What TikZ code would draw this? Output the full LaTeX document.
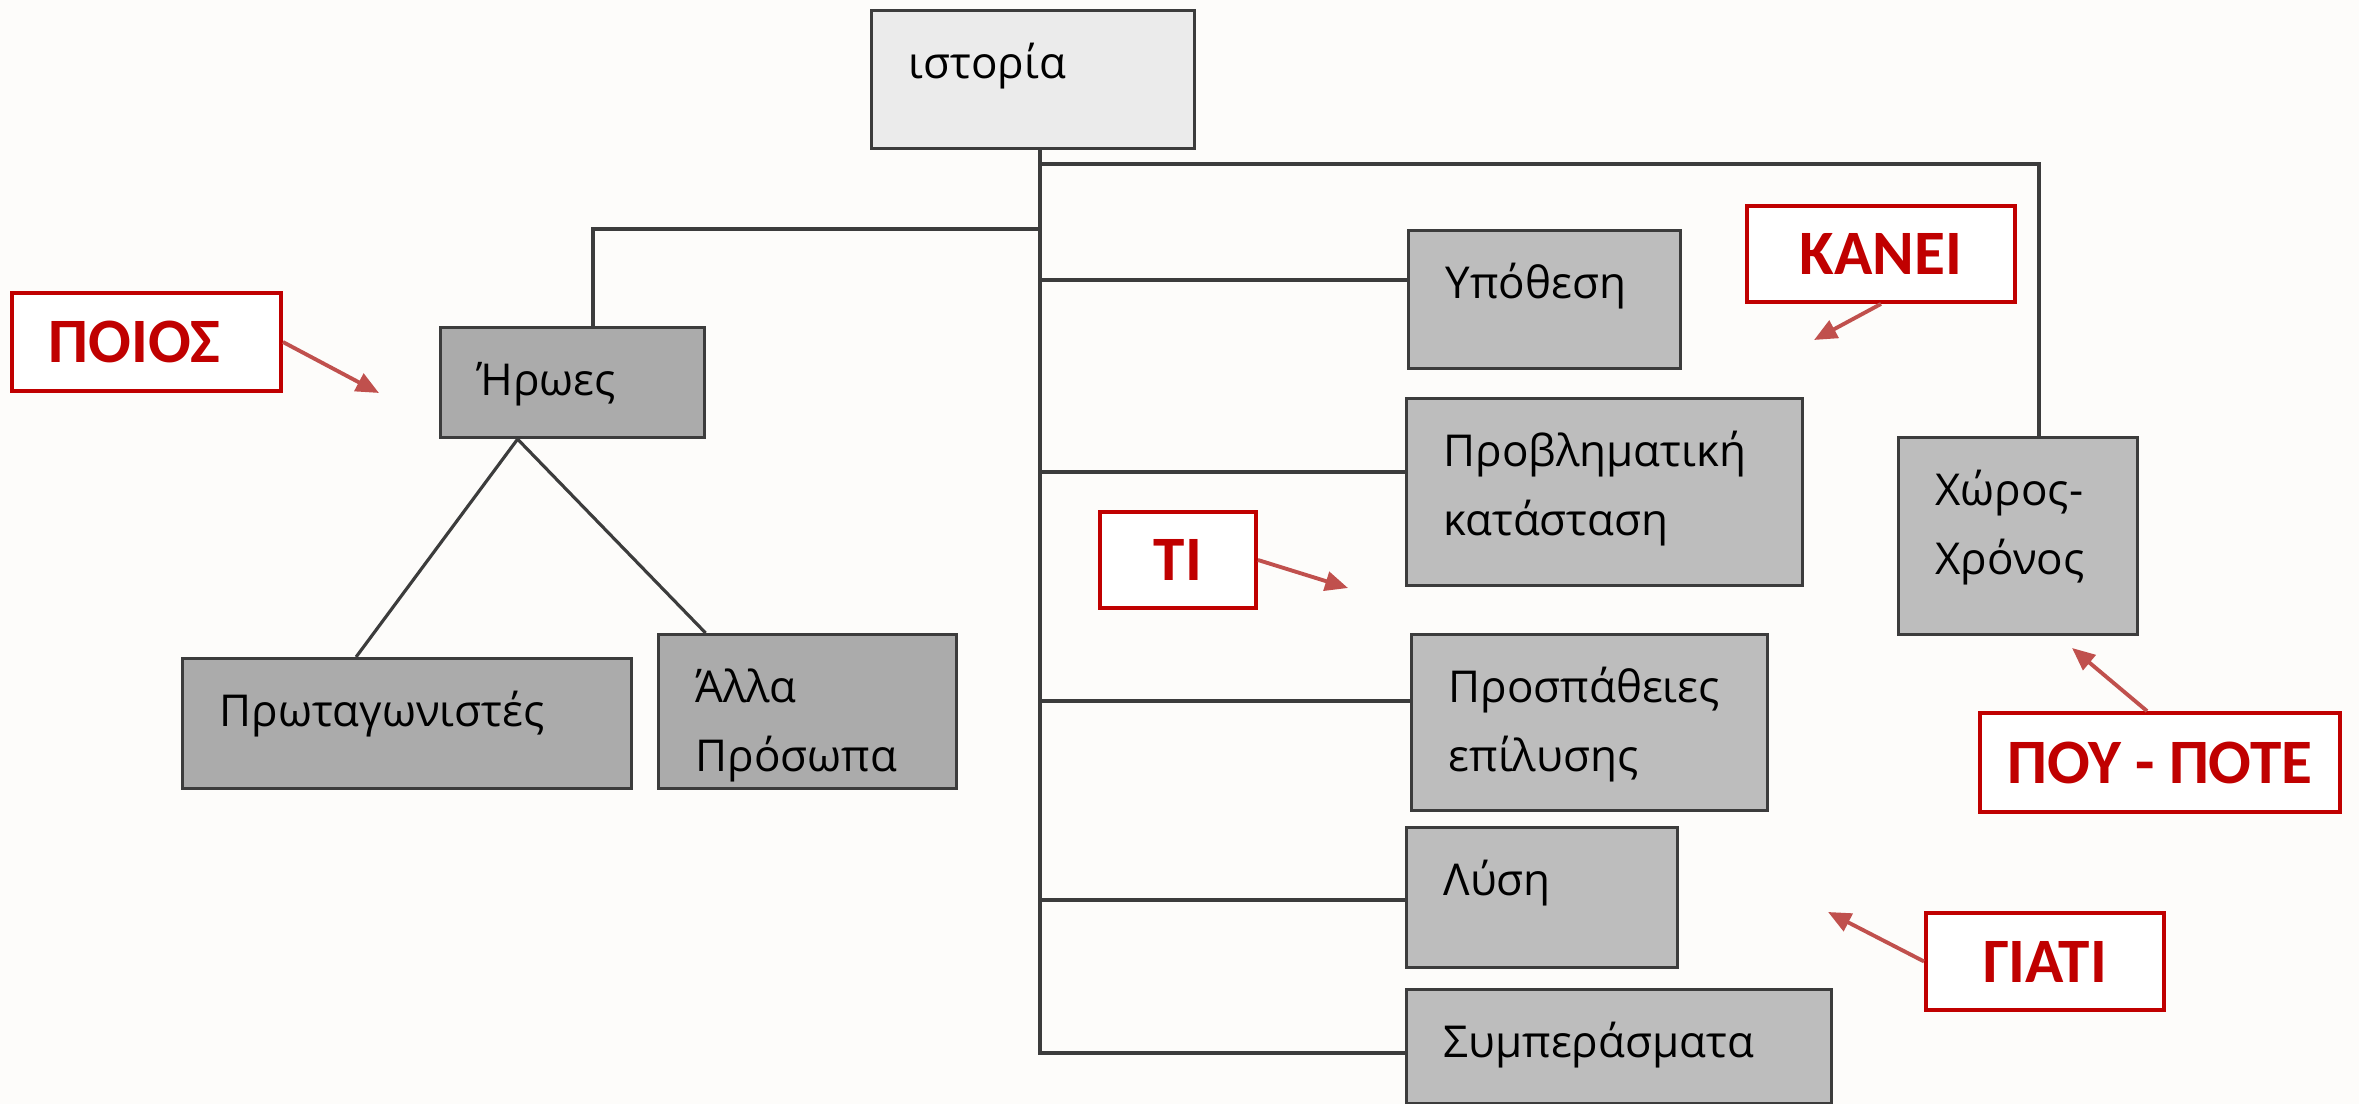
\documentclass[tikz,border=0pt]{standalone}
\usepackage{fontspec}
\setmainfont{Open Sans}
\newfontfamily\tagfont{Carlito}
\usetikzlibrary{arrows.meta}

\definecolor{boxline}{HTML}{3C3C3C}
\definecolor{toplight}{HTML}{EBEBEB}
\definecolor{leftgray}{HTML}{ABABAB}
\definecolor{rightgray}{HTML}{BDBDBD}
\definecolor{tagred}{HTML}{C00000}
\definecolor{arrowred}{HTML}{C0504D}
\definecolor{paper}{HTML}{FDFCFA}

\begin{document}
\begin{tikzpicture}[
    gbox/.style={draw=boxline, line width=0.9pt, rectangle, anchor=north west, inner xsep=0.37cm, inner ysep=0pt, text height=0.68cm, align=left, text=black, font=\fontsize{12.5}{19.6}\selectfont},
    tagbox/.style={draw=tagred, line width=1.1pt, fill=white, text=tagred, inner sep=0pt, font=\tagfont\bfseries\fontsize{18}{20}\selectfont},
    conn/.style={draw=boxline, line width=0.9pt},
    pointer/.style={draw=arrowred, line width=1.1pt, -{Triangle[length=6.5pt,width=5.5pt]}}
]
    \fill[paper] (0,0) rectangle (23.59,-11.04);
    \useasboundingbox (0,0) rectangle (23.59,-11.04);

    % boxes of the outline
    \node (ist) [gbox, fill=toplight, text width=2.49cm, text depth=0.70cm] at (8.70,-0.09) {ιστορία};
    \node (her) [gbox, fill=leftgray, text width=1.90cm, text depth=0.42cm] at (4.39,-3.26) {Ήρωες};
    \node (pro) [gbox, fill=leftgray, text width=3.75cm, text depth=0.62cm] at (1.81,-6.57) {Πρωταγωνιστές};
    \node (oth) [gbox, fill=leftgray, text width=2.24cm, text depth=0.86cm] at (6.57,-6.33) {Άλλα\\Πρόσωπα};
    \node (hyp) [gbox, fill=rightgray, text width=1.98cm, text depth=0.70cm] at (14.07,-2.29) {Υπόθεση};
    \node (prob) [gbox, fill=rightgray, text width=3.22cm, text depth=1.19cm] at (14.05,-3.97) {Προβληματική\\κατάσταση};
    \node (eff) [gbox, fill=rightgray, text width=2.82cm, text depth=1.08cm] at (14.10,-6.33) {Προσπάθειες\\επίλυσης};
    \node (sol) [gbox, fill=rightgray, text width=1.97cm, text depth=0.72cm] at (14.05,-8.26) {Λύση};
    \node (con) [gbox, fill=rightgray, text width=3.51cm, text depth=0.46cm] at (14.05,-9.88) {Συμπεράσματα};
    \node (place) [gbox, fill=rightgray, text width=1.65cm, text depth=1.29cm] at (18.97,-4.36) {Χώρος-\\Χρόνος};

    % branch points on the trunk
    \coordinate (bplace) at (10.40,-1.64);
    \coordinate (bplacecorner) at (20.39,-1.64);
    \coordinate (bher) at (10.40,-2.29);
    \coordinate (bhercorner) at (5.93,-2.29);
    \coordinate (bhyp) at (10.40,-2.80);
    \coordinate (bprob) at (10.40,-4.72);
    \coordinate (beff) at (10.40,-7.01);
    \coordinate (bsol) at (10.40,-9.00);
    \coordinate (bcon) at (10.40,-10.53);

    \draw[conn] (ist.south -| bcon) -- (bcon) -- (bcon -| con.west);
    \draw[conn] (bplace) -- (bplacecorner) -- (bplacecorner |- place.north);
    \draw[conn] (bher) -- (bhercorner) -- (bhercorner |- her.north);
    \draw[conn] (bhyp) -- (bhyp -| hyp.west);
    \draw[conn] (bprob) -- (bprob -| prob.west);
    \draw[conn] (beff) -- (beff -| eff.west);
    \draw[conn] (bsol) -- (bsol -| sol.west);
    \draw[conn] ([xshift=-0.55cm]her.south) -- ([xshift=-0.51cm]pro.north);
    \draw[conn] ([xshift=-0.55cm]her.south) -- ([xshift=-1.02cm]oth.north);

    % red question tags
    \node (poios) [tagbox, minimum width=2.69cm, minimum height=0.98cm] at (1.465,-3.42) {\hspace*{-0.24cm}ΠΟΙΟΣ};
    \node (kanei) [tagbox, minimum width=2.68cm, minimum height=0.96cm] at (18.81,-2.54) {ΚΑΝΕΙ};
    \node (ti) [tagbox, minimum width=1.56cm, minimum height=0.96cm] at (11.78,-5.60) {ΤΙ};
    \node (pou) [tagbox, minimum width=3.60cm, minimum height=0.99cm] at (21.60,-7.625) {ΠΟΥ - ΠΟΤΕ};
    \node (giati) [tagbox, minimum width=2.38cm, minimum height=0.97cm] at (20.45,-9.615) {ΓΙΑΤΙ};

    \coordinate (poiosend) at (3.79,-3.93);
    \coordinate (kaneiend) at (18.14,-3.40);
    \coordinate (tiend) at (13.48,-5.88);
    \coordinate (pouend) at (20.72,-6.48);
    \coordinate (giatiend) at (18.28,-9.12);

    \draw[pointer] (poios.east) -- (poiosend);
    \draw[pointer] (kanei.south) -- (kaneiend);
    \draw[pointer] (ti.east) -- (tiend);
    \draw[pointer] ([xshift=-0.13cm]pou.north) -- (pouend);
    \draw[pointer] (giati.west) -- (giatiend);
\end{tikzpicture}
\end{document}
